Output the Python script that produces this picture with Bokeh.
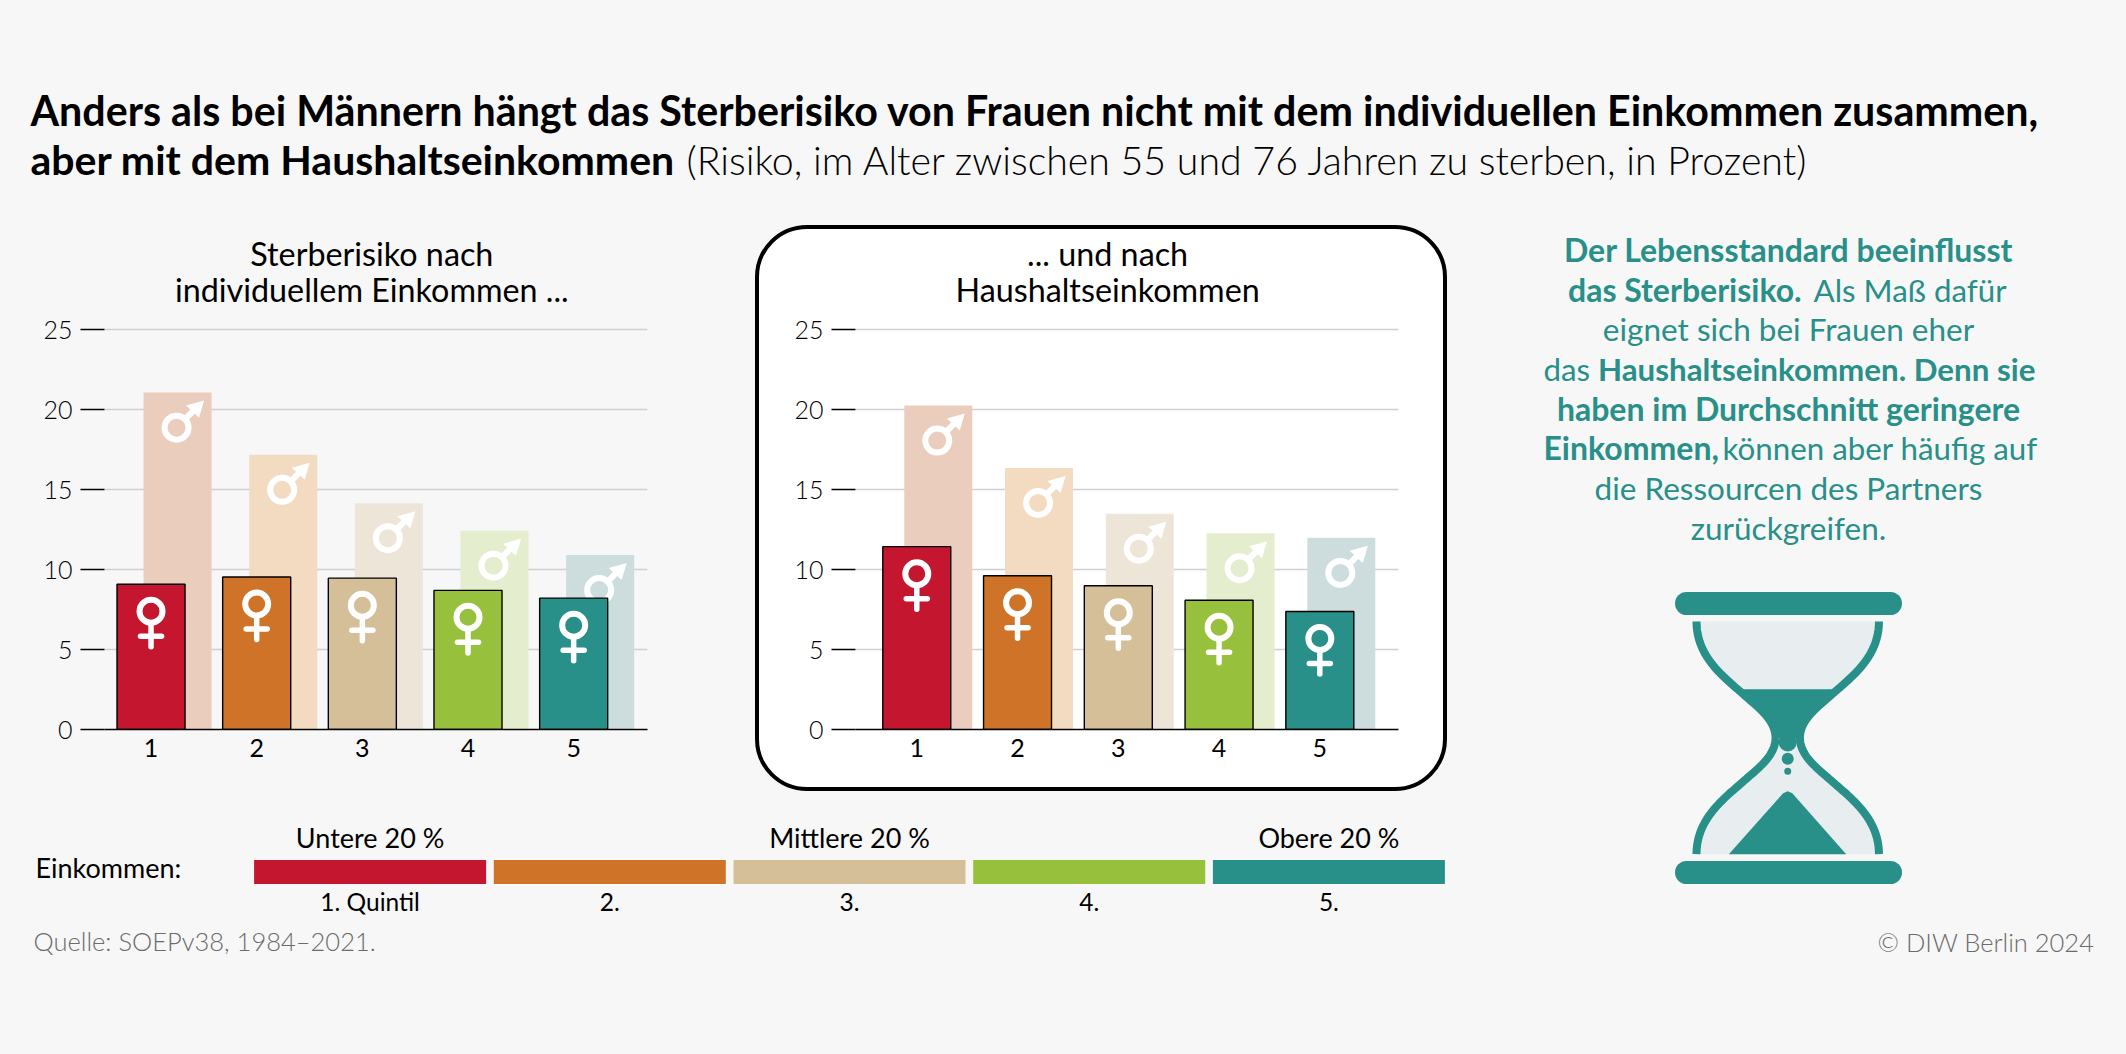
import numpy as np
from bokeh.core.properties import value
from bokeh.embed import file_html
from bokeh.resources import INLINE
from bokeh.plotting import figure
from bokeh.layouts import column, row
from bokeh.models import Range1d, FixedTicker

quintiles = [1, 2, 3, 4, 5]
y_ticks = [0, 5, 10, 15, 20, 25]
women_individual = [9.08, 9.53, 9.46, 8.70, 8.21]
men_individual = [21.06, 17.17, 14.15, 12.43, 10.91]
women_household = [11.43, 9.61, 8.99, 8.08, 7.38]
men_household = [20.25, 16.35, 13.49, 12.27, 11.98]
colors_women = ["#c4172f", "#ce7327", "#d4bf99", "#97c13d", "#288f89"]
colors_men = ["#ebcdbe", "#f2dbc1", "#ede6d8", "#e4edce", "#cdddde"]

BG = "#f7f7f7"
TEAL = "#288f89"
LIGHT = "Lato Light"
REG = "Lato"
PXU = 399.6 / 25


def blank(w, h, xr, yr):
    p = figure(width=w, height=h, x_range=Range1d(*xr), y_range=Range1d(*yr),
               output_backend="svg", toolbar_location=None, x_axis_type=None, y_axis_type=None,
               min_border=0, background_fill_color=BG, border_fill_color=BG, outline_line_color=None)
    p.grid.visible = False
    return p


def put(p, x, y, t, size, color="black", font=LIGHT, style="normal", align="left"):
    p.text(x=[x], y=[y], text=[t], text_font=value(font), text_font_style=style,
           text_font_size=f"{size}px", text_color=color, text_align=align, text_baseline="middle")


def chart(width, fx0, fx1, x_first, spacing, men_offset, women, men, t1, t2, tcx, boxed, page_x0):
    start = 1 + (fx0 - x_first) / spacing
    end = 1 + (fx1 - x_first) / spacing
    top_y = 225
    base_y = 728.6
    p = figure(width=width, height=566, x_range=Range1d(start, end),
               y_range=Range1d(0, (base_y - top_y) / PXU),
               output_backend="svg", toolbar_location=None,
               min_border_left=int(round(fx0 - page_x0)), min_border_right=int(round(page_x0 + width - fx1)),
               min_border_top=0, min_border_bottom=int(round(791 - base_y)),
               background_fill_color=None, border_fill_color=None if boxed else BG, outline_line_color=None)
    if boxed:
        p.styles = {"background": "white", "border-radius": "52px",
                    "outline": "4px solid black", "outline-offset": "-4px"}
    p.xgrid.visible = False
    p.ygrid.ticker = FixedTicker(ticks=y_ticks)
    p.ygrid.grid_line_color = "#cfcfcf"
    p.ygrid.grid_line_width = 1.5
    p.yaxis.ticker = FixedTicker(ticks=y_ticks)
    p.yaxis.axis_line_color = None
    p.yaxis.major_tick_out = 24
    p.yaxis.major_tick_in = 0
    p.yaxis.minor_tick_line_color = None
    p.yaxis.major_tick_line_color = "black"
    p.yaxis.major_tick_line_width = 1.3
    p.yaxis.major_label_text_font = LIGHT
    p.yaxis.major_label_text_font_size = "25px"
    p.yaxis.major_label_text_color = "black"
    p.yaxis.major_label_standoff = 8
    p.xaxis.ticker = FixedTicker(ticks=quintiles)
    p.xaxis.axis_line_color = "black"
    p.xaxis.axis_line_width = 1.5
    p.xaxis.major_tick_line_color = None
    p.xaxis.minor_tick_line_color = None
    p.xaxis.major_label_text_font = REG
    p.xaxis.major_label_text_font_size = "25px"
    p.xaxis.major_label_text_color = "black"
    p.xaxis.major_label_standoff = 3

    ux = 1 / spacing
    uy = 1 / PXU
    x = np.array(quintiles, dtype=float)
    w = np.array(women, dtype=float)
    m = np.array(men, dtype=float)
    xm = x + men_offset * ux

    p.vbar(x=xm, top=m, bottom=0, width=68 * ux, fill_color=colors_men, line_color=None)
    # male symbols
    cy = m - 35 * uy
    p.segment(xm + 8 * ux, cy + 9 * uy, xm + 19 * ux, cy + 20 * uy, line_color="white", line_width=6)
    p.patches([[a + 26.5 * ux, a + 8.5 * ux, a + 21.5 * ux] for a in xm],
              [[b - 8 * uy, b - 13 * uy, b - 25 * uy] for b in m],
              fill_color="white", line_color=None)
    p.scatter(xm - 1 * ux, cy, marker="circle", size=24, fill_alpha=0, line_color="white", line_width=6)

    p.vbar(x=x, top=w, bottom=0, width=68 * ux, fill_color=colors_women, line_color="black", line_width=1.4)
    # female symbols
    p.scatter(x, w - 27 * uy, marker="circle", size=23, fill_alpha=0, line_color="white", line_width=6)
    p.segment(x, w - 40 * uy, x, w - 62.5 * uy, line_color="white", line_width=5.5, line_cap="round")
    p.segment(x - 10.5 * ux, w - 52 * uy, x + 10.5 * ux, w - 52 * uy, line_color="white", line_width=5.5, line_cap="round")

    tx = 1 + (tcx - x_first) / spacing
    put(p, tx, (base_y - 252.5) / PXU, t1, 32.3, font=REG, align="center")
    put(p, tx, (base_y - 288.5) / PXU, t2, 32.3, font=REG, align="center")
    return p


# title ------------------------------------------------------------------
top = blank(2126, 225, (0, 2126), (225, 0))
put(top, 30, 109, "Anders als bei Männern hängt das Sterberisiko von Frauen nicht mit dem individuellen Einkommen zusammen,", 41.2, font=REG, style="bold")
put(top, 30, 159, "aber mit dem Haushaltseinkommen", 41, font=REG, style="bold")
put(top, 686, 159, "(Risiko, im Alter zwischen 55 und 76 Jahren zu sterben, in Prozent)", 39.3)

# charts -----------------------------------------------------------------
c1 = chart(755, 103.8, 646.5, 150.3, 105.6, 26.5, women_individual, men_individual,
           "Sterberisiko nach", "individuellem Einkommen ...", 371, False, 0)
c2 = chart(692, 854.8, 1398, 916.1, 100.8, 21.5, women_household, men_household,
           "... und nach", "Haushaltseinkommen", 1107, True, 755)

# legend -----------------------------------------------------------------
LS = 239.7
LX = 369.6
leg = blank(1447, 263, (1 + (0 - LX) / LS, 1 + (1447 - LX) / LS), (1054, 791))
leg.vbar(x=quintiles, top=859.5, bottom=883.5, width=232 / LS, fill_color=colors_women, line_color=None)
for q, t in zip(quintiles, ["1. Quintil", "2.", "3.", "4.", "5."]):
    put(leg, q, 901, t, 24.5, font=REG, align="center")
for q, t in zip([1, 3, 5], ["Untere 20 %", "Mittlere 20 %", "Obere 20 %"]):
    put(leg, q, 837, t, 27, font=REG, align="center")
put(leg, 1 + (35 - LX) / LS, 867, "Einkommen:", 27, font=REG)
put(leg, 1 + (33 - LX) / LS, 940, "Quelle: SOEPv38, 1984–2021.", 25.5, color="#6b6b6b")

# right panel ------------------------------------------------------------
rp = blank(679, 829, (1447, 2126), (1054, 225))
CX = 1788
lines = [
    (249, [("Der Lebensstandard beeinflusst", True)]),
    (289, [("das Sterberisiko.", True), (" Als Maß dafür", False)]),
    (328, [("eignet sich bei Frauen eher", False)]),
    (368, [("das ", False), ("Haushaltseinkommen. Denn sie", True)]),
    (408, [("haben im Durchschnitt geringere", True)]),
    (447, [("Einkommen,", True), (" können aber häufig auf", False)]),
    (487, [("die Ressourcen des Partners", False)]),
    (527, [("zurückgreifen.", False)]),
]
starts = {289: [1567.5, 1813], 368: [1543, 1597.5], 447: [1543, 1722]}
for y, parts in lines:
    if len(parts) == 1:
        t, b = parts[0]
        put(rp, CX, y, t, 32 if b else 31.5, color=TEAL, font=REG, style="bold" if b else "normal", align="center")
    else:
        for (t, b), sx in zip(parts, starts[y]):
            size = (31.3 if y == 368 else 32) if b else 31.3
            put(rp, sx, y, t.strip(), size, color=TEAL, font=REG, style="bold" if b else "normal")
put(rp, 2094, 941, "© DIW Berlin 2024", 25.5, color="#6b6b6b", align="right")


# hourglass (outline given in crop coordinates of the icon)
def hx(z):
    return 1500 + np.asarray(z, dtype=float) / 2.505


def hy(z):
    return 560 + np.asarray(z, dtype=float) / 3.0


def bez(p0, p1, p2, p3, n=40):
    t = np.linspace(0, 1, n)[:, None]
    return (1 - t) ** 3 * np.array(p0) + 3 * (1 - t) ** 2 * t * np.array(p1) + 3 * (1 - t) * t ** 2 * np.array(p2) + t ** 3 * np.array(p3)


upper = np.vstack([bez((491, 183), (491, 290), (560, 350), (610, 403)),
                   bez((610, 403), (650, 445), (689, 480), (689, 533))])
lower = np.column_stack([upper[::-1, 0], 2 * 533 - upper[::-1, 1] - 2])
left = np.vstack([upper, lower])
mid = 719.5
right = np.column_stack([2 * mid - left[:, 0], left[:, 1]])
rp.patch(hx(np.r_[left[:, 0], right[::-1, 0]]), hy(np.r_[left[:, 1], right[::-1, 1]]), fill_color="#e8edef", line_color=None)
sand = upper[upper[:, 1] >= 385]
rp.patch(hx(np.r_[sand[:, 0], 2 * mid - sand[::-1, 0]]), hy(np.r_[sand[:, 1], sand[::-1, 1]]), fill_color=TEAL, line_color=None)
rp.scatter(hx([mid]), hy([546]), marker="circle", size=18, fill_color=TEAL, line_color=None)
rp.line(hx(left[:, 0]), hy(left[:, 1]), line_color=TEAL, line_width=8, line_join="round")
rp.line(hx(right[:, 0]), hy(right[:, 1]), line_color=TEAL, line_width=8, line_join="round")
rp.scatter(hx([mid]), hy([595]), marker="circle", size=12, fill_color=TEAL, line_color=None)
rp.scatter(hx([mid]), hy([632]), marker="circle", size=7, fill_color=TEAL, line_color=None)
rp.patch(hx([572, 708, 719.5, 731, 866]), hy([881, 698, 692, 698, 881]), fill_color=TEAL, line_color=None)
rp.segment(x0=[1686, 1686], y0=[603, 872], x1=[1890, 1890], y1=[603, 872], line_color=TEAL, line_width=23, line_cap="round")

page = row(column(row(c1, c2), leg), rp)
outer = column(top, page)
html = file_html(outer, INLINE)
html = html.replace("</head>", f"<style>html,body{{background:{BG}}}</style></head>")
open("out.html", "w").write(html)
